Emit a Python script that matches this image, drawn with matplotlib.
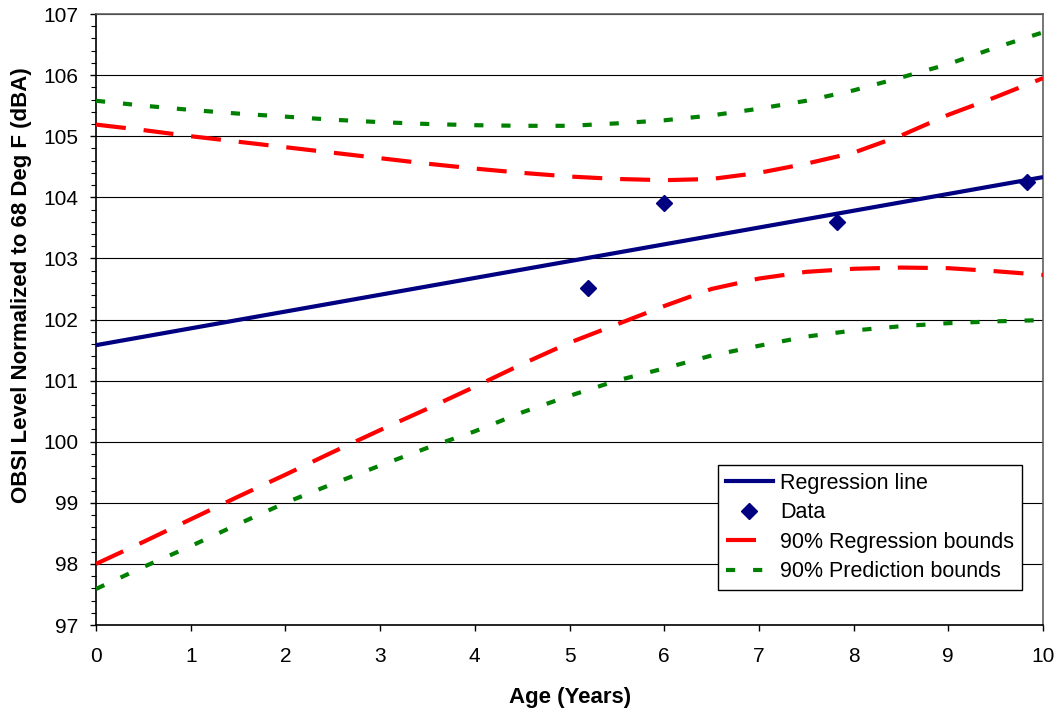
import matplotlib
matplotlib.use("Agg")
import matplotlib.pyplot as plt
from matplotlib.ticker import MultipleLocator
from matplotlib.lines import Line2D

plt.rcParams['font.family'] = ['Liberation Sans', 'DejaVu Sans']

# Data points
data_age = [5.2, 6.0, 7.82, 9.83]
data_obsi = [102.52, 103.9, 103.6, 104.25]

# Regression line endpoints
reg_age = [0, 10]
reg_obsi = [101.58, 104.33]

# Bounds read at 0.5-year steps
bound_age = [0, 0.5, 1, 1.5, 2, 2.5, 3, 3.5, 4, 4.5, 5, 5.5, 6, 6.5, 7, 7.5, 8, 8.5, 9, 9.5, 10]
reg_upper = [105.19, 105.10, 105.00, 104.91, 104.82, 104.73, 104.64, 104.55, 104.47, 104.40,
             104.34, 104.30, 104.28, 104.30, 104.40, 104.55, 104.73, 105.01, 105.35, 105.64, 105.95]
reg_lower = [98.00, 98.36, 98.73, 99.10, 99.46, 99.83, 100.19, 100.54, 100.90, 101.27,
             101.62, 101.92, 102.22, 102.50, 102.67, 102.78, 102.83, 102.85, 102.84, 102.79, 102.73]
pred_upper = [105.58, 105.50, 105.43, 105.37, 105.32, 105.27, 105.23, 105.20, 105.18, 105.17,
              105.17, 105.21, 105.26, 105.34, 105.45, 105.58, 105.75, 105.96, 106.18, 106.45, 106.70]
pred_lower = [97.59, 97.95, 98.29, 98.65, 99.00, 99.31, 99.61, 99.90, 100.17, 100.48,
              100.75, 101.00, 101.20, 101.41, 101.57, 101.72, 101.82, 101.89, 101.94, 101.97, 101.99]

NAVY = '#000080'
RED = '#FF0000'
GREEN = '#008000'

fig = plt.figure(figsize=(10.58, 7.13), dpi=100)
ax = fig.add_axes([96/1058, 1-625/713, (1043-96)/1058, (625-14)/713])

lw = 3.0
dashed = (0, (7.2, 4.3))
dotted = (0, (2.2, 4.3))
ax.plot(bound_age, pred_upper, color=GREEN, lw=lw, linestyle=dotted, dash_capstyle='butt', zorder=3)
ax.plot(bound_age, pred_lower, color=GREEN, lw=lw, linestyle=dotted, dash_capstyle='butt', zorder=3)
ax.plot(bound_age, reg_upper, color=RED, lw=lw, linestyle=dashed, dash_capstyle='butt', zorder=3)
ax.plot(bound_age, reg_lower, color=RED, lw=lw, linestyle=dashed, dash_capstyle='butt', zorder=3)
ax.plot(reg_age, reg_obsi, color=NAVY, lw=3.0, solid_capstyle='butt', zorder=4)
ax.plot(data_age, data_obsi, linestyle='none', marker='D', markersize=8, color=NAVY, zorder=5)

ax.set_xlim(0, 10)
ax.set_ylim(97, 107)
ax.xaxis.set_major_locator(MultipleLocator(1))
ax.yaxis.set_major_locator(MultipleLocator(1))
ax.yaxis.set_minor_locator(MultipleLocator(0.2))
ax.grid(axis='y', which='major', color='black', lw=0.8)
ax.set_axisbelow(True)

ax.tick_params(axis='both', which='major', direction='out', length=4.5, width=1.0, labelsize=15, color='black')
ax.tick_params(axis='y', which='minor', direction='out', length=3.5, width=0.8, color='black')
ax.tick_params(axis='y', which='major', pad=8)
ax.tick_params(axis='x', which='major', pad=11)

for s in ['left', 'bottom']:
    ax.spines[s].set_color('black')
    ax.spines[s].set_linewidth(1.2)
for s in ['top', 'right']:
    ax.spines[s].set_color('#606060')
    ax.spines[s].set_linewidth(1.2)

fig.text(570/1058, 1-697/713, 'Age (Years)', ha='center', va='center', fontsize=16, fontweight='bold')
fig.text(22/1058, 1-285/713, 'OBSI Level Normalized to 68 Deg F (dBA)', ha='center', va='center',
         rotation=90, fontsize=16, fontweight='bold')

handles = [
    Line2D([], [], color=NAVY, lw=3.0),
    Line2D([], [], color=NAVY, linestyle='none', marker='D', markersize=8),
    Line2D([], [], color=RED, lw=lw, linestyle=dashed, dash_capstyle='butt'),
    Line2D([], [], color=GREEN, lw=lw, linestyle=dotted, dash_capstyle='butt'),
]
labels = ['Regression line', 'Data', '90% Regression bounds', '90% Prediction bounds']
leg = ax.legend(handles, labels, loc='lower right', bbox_to_anchor=((1022-96)/(1043-96), (625-590)/(625-14)),
                fontsize=15.5, frameon=True, fancybox=False, edgecolor='black', framealpha=1,
                handlelength=2.2, handletextpad=0.35, borderpad=0.35, labelspacing=0.4, borderaxespad=0)
leg.get_frame().set_linewidth(1.0)

fig.savefig('out.png', dpi=100)
